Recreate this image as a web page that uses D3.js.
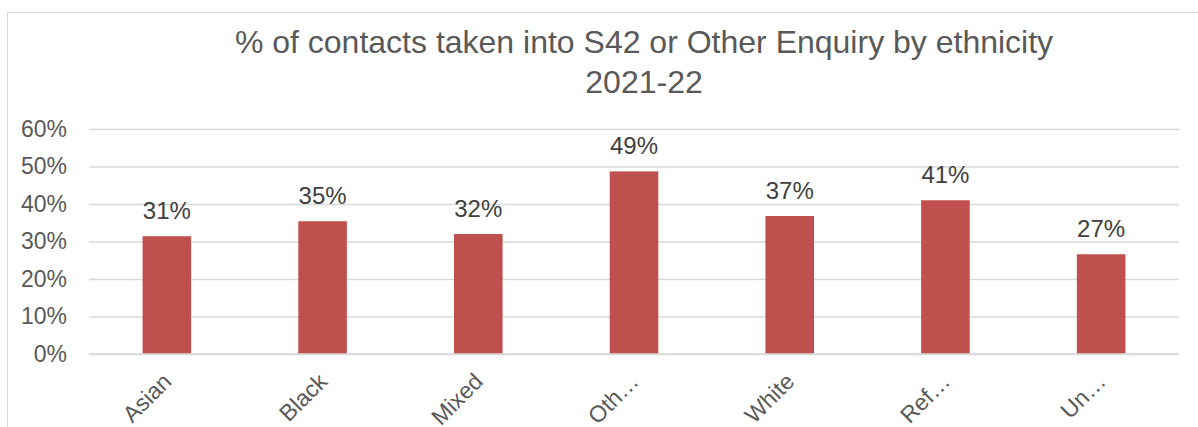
<!DOCTYPE html>
<html>
<head>
<meta charset="utf-8">
<script src="https://cdn.jsdelivr.net/npm/d3@7"></script>
<style>
  html, body { margin: 0; padding: 0; background: #ffffff; }
  svg { display: block; font-family: "Liberation Sans", Arial, sans-serif; }
</style>
</head>
<body>
<svg id="chart" width="1198" height="427"></svg>
<script>
// Ethnicity groups and share of contacts taken into S42 or Other Enquiry
const categories = ["Asian", "Black", "Mixed", "Other", "White", "Refused", "Unknown"];
const tickLabels = ["Asian", "Black", "Mixed", "Oth\u2026", "White", "Ref\u2026", "Un\u2026"];
const values = [0.314, 0.354, 0.320, 0.487, 0.368, 0.410, 0.266];
const yTicks = [0, 0.1, 0.2, 0.3, 0.4, 0.5, 0.6];
const titleLines = ["% of contacts taken into S42 or Other Enquiry by ethnicity", "2021-22"];

const svg = d3.select("#chart");
const W = 1198, H = 427;
const plot = { left: 89, right: 1179, top: 129, bottom: 354 };

// outer chart frame
svg.append("rect")
  .attr("x", 7.5).attr("y", 12.5)
  .attr("width", W + 20).attr("height", H + 20)
  .attr("fill", "#ffffff").attr("stroke", "#d9d9d9").attr("stroke-width", 1);

// title
const title = svg.append("text")
  .attr("text-anchor", "middle")
  .attr("fill", "#595959")
  .style("font-size", "32px");
titleLines.forEach((t, i) => {
  title.append("tspan").attr("x", 644).attr("y", 53 + i * 40).text(t);
});

const x = d3.scaleBand()
  .domain(categories)
  .range([plot.left, plot.right])
  .paddingInner(0.688)
  .paddingOuter(0.344);

const y = d3.scaleLinear().domain([0, 0.6]).range([plot.bottom, plot.top]);

// gridlines and y labels
const yAxis = d3.axisLeft(y)
  .tickValues(yTicks)
  .tickFormat(d3.format(".0%"))
  .tickSize(-(plot.right - plot.left))
  .tickPadding(22);
const yg = svg.append("g")
  .attr("transform", `translate(${plot.left},0)`)
  .call(yAxis);
yg.select(".domain").remove();
yg.selectAll(".tick line").attr("stroke", "#d9d9d9").attr("stroke-width", 1.3);
yg.selectAll(".tick text")
  .attr("fill", "#595959")
  .style("font-size", "23px")
  .style("font-family", "'Liberation Sans', Arial, sans-serif");

// bars
svg.append("g").selectAll("rect")
  .data(categories)
  .join("rect")
  .attr("x", d => x(d))
  .attr("width", x.bandwidth())
  .attr("y", (d, i) => y(values[i]))
  .attr("height", (d, i) => y(0) - y(values[i]))
  .attr("fill", "#c0504d");

// baseline
svg.append("line")
  .attr("x1", plot.left).attr("x2", plot.right)
  .attr("y1", y(0)).attr("y2", y(0))
  .attr("stroke", "#d9d9d9").attr("stroke-width", 1.5);

// value labels
svg.append("g").selectAll("text")
  .data(categories)
  .join("text")
  .attr("x", d => x(d) + x.bandwidth() / 2)
  .attr("y", (d, i) => y(values[i]) - 17)
  .attr("text-anchor", "middle")
  .attr("fill", "#404040")
  .style("font-size", "24px")
  .text((d, i) => d3.format(".0%")(values[i]));

// category labels, rotated
const xAxis = d3.axisBottom(x)
  .tickSize(0)
  .tickFormat((d, i) => tickLabels[i]);
const xg = svg.append("g")
  .attr("transform", `translate(0,${plot.bottom})`)
  .call(xAxis);
xg.select(".domain").remove();
xg.selectAll(".tick text")
  .attr("fill", "#595959")
  .style("font-size", "23px")
  .style("font-family", "'Liberation Sans', Arial, sans-serif")
  .attr("text-anchor", "end")
  .attr("dy", null)
  .attr("y", 0)
  .attr("transform", "translate(6,29) rotate(-45)");
</script>
</body>
</html>
